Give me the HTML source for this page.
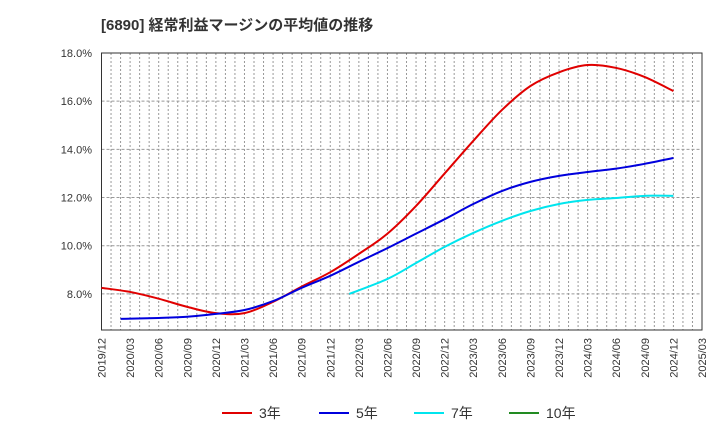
<!DOCTYPE html>
<html><head><meta charset="utf-8"><style>
body{margin:0;background:#fff;font-family:"Liberation Sans","Noto Sans CJK JP",sans-serif}
</style></head><body>
<svg id="c" width="720" height="440" xmlns="http://www.w3.org/2000/svg">
<text x="101" y="30" font-size="15" font-weight="bold" fill="#333">[6890]  経常利益マージンの平均値の推移</text>
<g id="grid"></g><g id="axes"></g><g id="series"></g><g id="legend"></g>
</svg>
<script>
const xLabels=["2019/12","2020/03","2020/06","2020/09","2020/12","2021/03","2021/06","2021/09","2021/12","2022/03","2022/06","2022/09","2022/12","2023/03","2023/06","2023/09","2023/12","2024/03","2024/06","2024/09","2024/12","2025/03"];
const yTicks=[8,10,12,14,16,18];
const s3=[8.25,8.08,7.8,7.46,7.2,7.2,7.67,8.3,8.9,9.66,10.5,11.65,13.0,14.35,15.63,16.63,17.2,17.5,17.38,17.0,16.42];
const s3Months=[0,3,6,9,12,15,18,21,24,27,30,33,36,39,42,45,48,51,54,57,60];
const s5=[6.96,7.0,7.05,7.17,7.33,7.7,8.25,8.75,9.33,9.9,10.5,11.1,11.73,12.27,12.65,12.9,13.06,13.2,13.4,13.64];
const s5Months=[2,6,9,12,15,18,21,24,27,30,33,36,39,42,45,48,51,54,57,60];
const s7=[8.0,8.62,9.28,9.95,10.53,11.03,11.44,11.73,11.9,11.98,12.07,12.07];
const s7Months=[26,30,33,36,39,42,45,48,51,54,57,60];
const s10=[];
const s10Months=[];
const NS="http://www.w3.org/2000/svg";
const L=101.5,R=702,T=53,B=330,ymin=6.5,ymax=18;
const totalMonths=(xLabels.length-1)*3;
const xm=m=>L+(R-L)*m/totalMonths;
const xs=i=>xm(i*3);
const ys=v=>B-(v-ymin)/(ymax-ymin)*(B-T);
function mk(tag,attrs,parent){const e=document.createElementNS(NS,tag);for(const k in attrs)e.setAttribute(k,attrs[k]);parent.appendChild(e);return e;}
const grid=document.getElementById('grid'),axes=document.getElementById('axes'),ser=document.getElementById('series'),leg=document.getElementById('legend');
for(let m=1;m<totalMonths;m++){const x=xm(m);
 const g=mk('line',{x1:x,x2:x,y1:T,y2:B,stroke:'#999','stroke-width':1,'stroke-dasharray':'2,2'},grid);
 }
yTicks.forEach(v=>{const y=ys(v);
 const g=mk('line',{x1:L,x2:R,y1:y,y2:y,stroke:'#999','stroke-width':1,'stroke-dasharray':'3,2'},grid);
 
 const t=mk('text',{x:92,y:y+4,'font-size':11,'text-anchor':'end',fill:'#333'},axes);t.textContent=v.toFixed(1)+'%';
 });
xLabels.forEach((l,i)=>{const x=xs(i);
 const t=mk('text',{x:x+4,y:338,'font-size':11,'text-anchor':'end',fill:'#333',transform:`rotate(-90 ${x+4} 338)`},axes);t.textContent=l;
 });
const fr=mk('rect',{x:L,y:T,width:R-L,height:B-T,fill:'none',stroke:'#333','stroke-width':1},axes);

function path(arr,months){const p=arr.map((v,i)=>[xm(months[i]),ys(v)]);if(p.length<2)return '';
 let d=`M${p[0][0]},${p[0][1]}`;for(let i=0;i<p.length-1;i++){const p0=p[Math.max(0,i-1)],p1=p[i],p2=p[i+1],p3=p[Math.min(p.length-1,i+2)];
 d+=` C${p1[0]+(p2[0]-p0[0])/6},${p1[1]+(p2[1]-p0[1])/6} ${p2[0]-(p3[0]-p1[0])/6},${p2[1]-(p3[1]-p1[1])/6} ${p2[0]},${p2[1]}`;}return d;}
const defs=[[s3,s3Months,'#e00000','3年','series-3y'],[s5,s5Months,'#0000dd','5年','series-5y'],[s7,s7Months,'#00e5ee','7年','series-7y'],[s10,s10Months,'#228b22','10年','series-10y']];
defs.forEach(([a,mo,c,n,id],k)=>{const d=path(a,mo);if(d){const e=mk('path',{d:d,fill:'none',stroke:c,'stroke-width':2},ser);
 }
 const lx=[222,319,414,509][k];
 const g=mk('g',{},leg);
 mk('line',{x1:lx,x2:lx+30,y1:413,y2:413,stroke:c,'stroke-width':2},g);
 const t=mk('text',{x:lx+37,y:418,'font-size':14,fill:'#333'},g);t.textContent=n;});
</script>
</body></html>
